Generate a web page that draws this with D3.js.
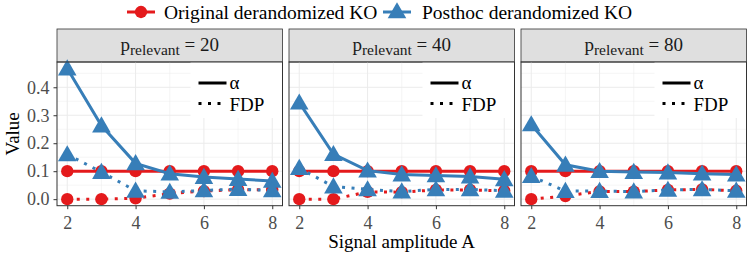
<!DOCTYPE html>
<html>
<head>
<meta charset="utf-8">
<script src="https://cdn.jsdelivr.net/npm/d3@7"></script>
<style>
  body { margin: 0; background: #fff; }
</style>
</head>
<body>
<div id="chart"></div>
<script>
// data
var amplitudes = [2, 3, 4, 5, 6, 7, 8];
var pRelevant = [20, 40, 80];
var seriesNames = ["Original derandomized KO", "Posthoc derandomized KO"];

var originalAlpha = [
  [0.1, 0.1, 0.1, 0.1, 0.1, 0.1, 0.1],
  [0.1, 0.1, 0.1, 0.1, 0.1, 0.1, 0.1],
  [0.1, 0.1, 0.1, 0.1, 0.1, 0.1, 0.1]
];
var originalFDP = [
  [0.0, 0.0, 0.003, 0.02, 0.029, 0.034, 0.034],
  [0.0, 0.0, 0.026, 0.025, 0.033, 0.033, 0.030],
  [0.0, 0.011, 0.028, 0.027, 0.033, 0.035, 0.030]
];
var posthocAlpha = [
  [0.467, 0.263, 0.128, 0.091, 0.079, 0.072, 0.065],
  [0.345, 0.161, 0.102, 0.088, 0.085, 0.081, 0.071],
  [0.267, 0.123, 0.100, 0.097, 0.095, 0.091, 0.088]
];
var posthocFDP = [
  [0.160, 0.097, 0.030, 0.026, 0.031, 0.036, 0.031],
  [0.111, 0.045, 0.035, 0.027, 0.035, 0.035, 0.030],
  [0.082, 0.029, 0.029, 0.027, 0.033, 0.035, 0.030]
];

var colors = ["#E41A1C", "#377EB8"];
var FONT = "'Liberation Serif', 'Times New Roman', serif";

// layout
var W = 753, H = 261;
var panelTop = 62, panelBottom = 205.7, stripH = 33;
var panelLeft = [57, 289, 521];
var panelW = 225.5;

var svg = d3.select("#chart").append("svg")
  .attr("width", W).attr("height", H);

// scales shared by all facets (ggplot style 5% expansion)
var allVals = [].concat(originalAlpha.flat(), originalFDP.flat(), posthocAlpha.flat(), posthocFDP.flat());
var yMin = d3.min(allVals), yMax = d3.max(allVals);
var yPad = (yMax - yMin) * 0.05;
var y = d3.scaleLinear().domain([yMin - yPad, yMax + yPad]).range([panelBottom, panelTop]);
var xPad = (d3.max(amplitudes) - d3.min(amplitudes)) * 0.05;

var dotted = "3,6.5";

pRelevant.forEach(function (p, i) {
  var x0 = panelLeft[i];
  var x = d3.scaleLinear()
    .domain([d3.min(amplitudes) - xPad, d3.max(amplitudes) + xPad])
    .range([0, panelW]);

  var g = svg.append("g").attr("transform", "translate(" + x0 + ",0)");

  // strip
  g.append("rect").attr("x", 0).attr("y", panelTop - stripH)
    .attr("width", panelW).attr("height", stripH)
    .attr("fill", "#DFDFDF").attr("stroke", "#333").attr("stroke-width", 0.8);
  var st = g.append("text").attr("x", panelW / 2).attr("y", 50.5)
    .attr("text-anchor", "middle").style("font-family", FONT)
    .attr("font-size", 19).attr("fill", "#1a1a1a");
  st.append("tspan").text("p");
  st.append("tspan").attr("font-size", 15.5).attr("dy", 4).text("relevant");
  st.append("tspan").attr("dy", -4).text(" = " + p);

  // grid
  var yMajor = [0, 0.1, 0.2, 0.3, 0.4];
  var yMinor = [0.05, 0.15, 0.25, 0.35, 0.45];
  var xMajor = [2, 4, 6, 8], xMinor = [3, 5, 7];
  g.selectAll(".ymin").data(yMinor).enter().append("line")
    .attr("x1", 0).attr("x2", panelW).attr("y1", y).attr("y2", y)
    .attr("stroke", "#EBEBEB").attr("stroke-width", 0.5);
  g.selectAll(".xmin").data(xMinor).enter().append("line")
    .attr("x1", x).attr("x2", x).attr("y1", panelTop).attr("y2", panelBottom)
    .attr("stroke", "#EBEBEB").attr("stroke-width", 0.5);
  g.selectAll(".ymaj").data(yMajor).enter().append("line")
    .attr("x1", 0).attr("x2", panelW).attr("y1", y).attr("y2", y)
    .attr("stroke", "#EBEBEB").attr("stroke-width", 1);
  g.selectAll(".xmaj").data(xMajor).enter().append("line")
    .attr("x1", x).attr("x2", x).attr("y1", panelTop).attr("y2", panelBottom)
    .attr("stroke", "#EBEBEB").attr("stroke-width", 1);

  // series
  var series = [
    { c: 0, v: originalAlpha[i], dash: null, shape: "circle" },
    { c: 0, v: originalFDP[i], dash: dotted, shape: "circle" },
    { c: 1, v: posthocAlpha[i], dash: null, shape: "triangle" },
    { c: 1, v: posthocFDP[i], dash: dotted, shape: "triangle" }
  ];
  var line = d3.line().x(function (d, k) { return x(amplitudes[k]); }).y(function (d) { return y(d); });
  var circle = d3.symbol().type(d3.symbolCircle).size(120);
  var tri = d3.symbol().type(d3.symbolTriangle).size(150);

  [0, 1].forEach(function (c) {
    series.filter(function (s) { return s.c === c; }).forEach(function (s) {
      g.append("path").attr("d", line(s.v)).attr("fill", "none")
        .attr("stroke", colors[c]).attr("stroke-width", 3)
        .attr("stroke-dasharray", s.dash);
    });
    series.filter(function (s) { return s.c === c; }).forEach(function (s) {
      g.selectAll(null).data(s.v).enter().append("path")
        .attr("d", s.shape === "circle" ? circle : tri)
        .attr("transform", function (d, k) {
          return "translate(" + x(amplitudes[k]) + "," + (y(d) + (s.shape === "triangle" ? 1.5 : 0)) + ")";
        })
        .attr("fill", colors[c]);
    });
  });

  // inner legend (linetype)
  var lg = g.append("g").attr("transform", "translate(" + (panelW - 92) + "," + panelTop + ")");
  lg.append("rect").attr("width", 92).attr("height", 56).attr("fill", "#fff");
  lg.append("line").attr("x1", 8).attr("x2", 36).attr("y1", 21).attr("y2", 21)
    .attr("stroke", "#000").attr("stroke-width", 3);
  lg.append("line").attr("x1", 8).attr("x2", 36).attr("y1", 41.5).attr("y2", 41.5)
    .attr("stroke", "#000").attr("stroke-width", 3).attr("stroke-dasharray", dotted);
  lg.append("text").attr("x", 39).attr("y", 27).style("font-family", FONT)
    .attr("font-size", 19).text("α");
  lg.append("text").attr("x", 39).attr("y", 48.5).style("font-family", FONT)
    .attr("font-size", 19).text("FDP");

  // border
  g.append("rect").attr("x", 0).attr("y", panelTop).attr("width", panelW)
    .attr("height", panelBottom - panelTop).attr("fill", "none")
    .attr("stroke", "#333").attr("stroke-width", 1);

  // x axis
  var xa = g.append("g").attr("transform", "translate(0," + panelBottom + ")")
    .call(d3.axisBottom(x).tickValues(xMajor).tickSize(3.5).tickFormat(d3.format("d")));
  xa.select(".domain").remove();
  xa.selectAll("line").attr("stroke", "#333");
  xa.selectAll("text").style("font-family", FONT).attr("font-size", 18)
    .attr("fill", "#4D4D4D").attr("dy", "0.93em");

  if (i === 0) {
    var ya = g.append("g").call(d3.axisLeft(y).tickValues(yMajor).tickSize(3.5).tickFormat(d3.format(".1f")));
    ya.select(".domain").remove();
    ya.selectAll("line").attr("stroke", "#333");
    ya.selectAll("text").style("font-family", FONT).attr("font-size", 18)
      .attr("fill", "#4D4D4D").attr("dx", "-0.05em");
  }
});

// axis titles
svg.append("text").attr("x", 401.5).attr("y", 248).attr("text-anchor", "middle")
  .style("font-family", FONT).attr("font-size", 19).text("Signal amplitude A");
svg.append("text").attr("transform", "translate(19," + ((panelTop + panelBottom) / 2) + ") rotate(-90)")
  .attr("text-anchor", "middle").style("font-family", FONT).attr("font-size", 19).text("Value");

// top legend
var legItems = [
  { name: seriesNames[0], shape: d3.symbolCircle, size: 120, kx: 127, tx: 164 },
  { name: seriesNames[1], shape: d3.symbolTriangle, size: 150, kx: 383, tx: 422 }
];
var leg = svg.append("g");
legItems.forEach(function (d, k) {
  leg.append("line").attr("x1", d.kx).attr("x2", d.kx + 28).attr("y1", 12).attr("y2", 12)
    .attr("stroke", colors[k]).attr("stroke-width", 3);
  leg.append("path").attr("d", d3.symbol().type(d.shape).size(d.size))
    .attr("transform", "translate(" + (d.kx + 14) + "," + (k === 1 ? 13 : 12) + ")")
    .attr("fill", colors[k]);
  leg.append("text").attr("x", d.tx).attr("y", 18.5).style("font-family", FONT)
    .attr("font-size", 19.5).text(d.name);
});
</script>
</body>
</html>
